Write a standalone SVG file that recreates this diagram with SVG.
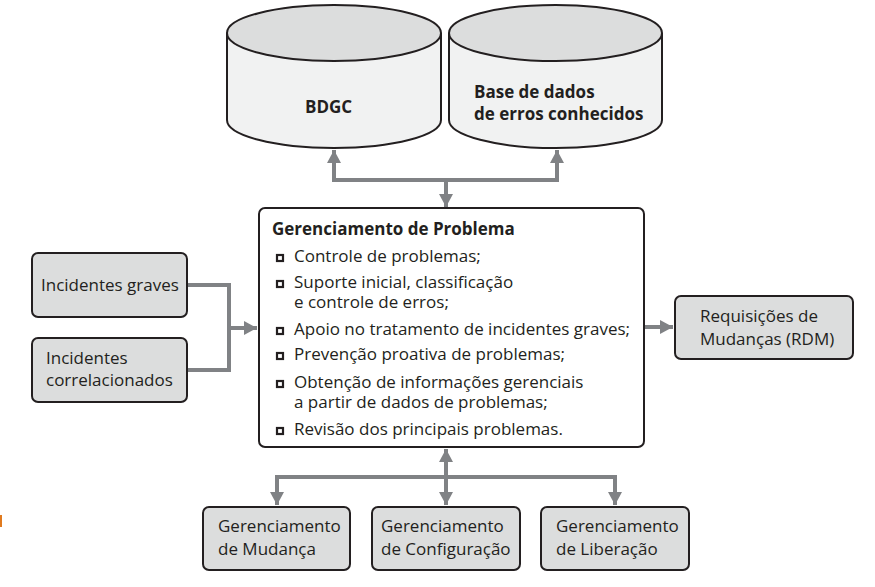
<svg xmlns="http://www.w3.org/2000/svg" width="875" height="587" viewBox="0 0 875 587">
<style>
text{font-family:"Open Sans","Noto Sans","Liberation Sans",sans-serif;fill:#231f20;font-size:17px}
.b{font-weight:bold}
.box{fill:#dcdddd;stroke:#231f20;stroke-width:2}
.main{fill:#ffffff;stroke:#231f20;stroke-width:2}
.cylTop{fill:#dcdddd;stroke:#231f20;stroke-width:2}
.cylBody{fill:#f1f2f2;stroke:#231f20;stroke-width:2}
.c{fill:none;stroke:#808285;stroke-width:4}
.bul{fill:#ffffff;stroke:#231f20;stroke-width:2.2}
</style>
<defs>
<marker id="ah" markerUnits="userSpaceOnUse" markerWidth="13" markerHeight="14" refX="13" refY="7" orient="auto-start-reverse" viewBox="0 0 13 14">
<path d="M0,0 L13,7 L0,14 z" fill="#808285"/>
</marker>
</defs>
<rect x="0" y="515" width="2" height="12" fill="#e07a1f"/>
<g id="connectors">
<path class="c" d="M332,180 H559"/>
<path class="c" d="M334,180 V150" marker-end="url(#ah)"/>
<path class="c" d="M557,180 V150" marker-end="url(#ah)"/>
<path class="c" d="M446,180 V207" marker-end="url(#ah)"/>
<path class="c" d="M187,285 H229 V370 H187"/>
<path class="c" d="M229,328 H257" marker-end="url(#ah)"/>
<path class="c" d="M644,327 H673" marker-end="url(#ah)"/>
<path class="c" d="M275,477 H617"/>
<path class="c" d="M446,477 V449" marker-end="url(#ah)"/>
<path class="c" d="M446,477 V505" marker-end="url(#ah)"/>
<path class="c" d="M277,475 V505" marker-end="url(#ah)"/>
<path class="c" d="M615,475 V505" marker-end="url(#ah)"/>
</g>
<g id="bdgc">
<path class="cylBody" d="M227,33 V120 A107,28 0 0 0 441,120 V33"/>
<ellipse class="cylTop" cx="334" cy="33" rx="107" ry="28"/>
<text class="b" x="305" y="113">BDGC</text>
</g>
<g id="base-erros">
<path class="cylBody" d="M449,33 V120 A106.5,28 0 0 0 662,120 V33"/>
<ellipse class="cylTop" cx="555.5" cy="33" rx="106.5" ry="28"/>
<text class="b" x="474" y="98">Base de dados</text>
<text class="b" x="474" y="120">de erros conhecidos</text>
</g>
<g id="gerenciamento-problema">
<rect class="main" x="259" y="208" width="385" height="239" rx="6"/>
<text class="b" x="272" y="235">Gerenciamento de Problema</text>
<rect class="bul" x="277" y="255" width="6" height="6"/>
<text x="294" y="262">Controle de problemas;</text>
<rect class="bul" x="277" y="281" width="6" height="6"/>
<text x="294" y="288">Suporte inicial, classificação</text>
<text x="294" y="308">e controle de erros;</text>
<rect class="bul" x="277" y="328" width="6" height="6"/>
<text x="294" y="335">Apoio no tratamento de incidentes graves;</text>
<rect class="bul" x="277" y="353" width="6" height="6"/>
<text x="294" y="360">Prevenção proativa de problemas;</text>
<rect class="bul" x="277" y="381" width="6" height="6"/>
<text x="294" y="388">Obtenção de informações gerenciais</text>
<text x="294" y="408">a partir de dados de problemas;</text>
<rect class="bul" x="277" y="428" width="6" height="6"/>
<text x="294" y="435">Revisão dos principais problemas.</text>
</g>
<g id="incidentes-graves">
<rect class="box" x="32" y="253" width="155" height="64" rx="6"/>
<text x="41" y="291">Incidentes graves</text>
</g>
<g id="incidentes-correlacionados">
<rect class="box" x="32" y="338" width="155" height="64" rx="6"/>
<text x="46" y="364">Incidentes</text>
<text x="46" y="386">correlacionados</text>
</g>
<g id="rdm">
<rect class="box" x="675" y="296" width="178" height="63" rx="6"/>
<text x="700" y="322">Requisições de</text>
<text x="700" y="345">Mudanças (RDM)</text>
</g>
<g id="ger-mudanca">
<rect class="box" x="203" y="507" width="147" height="63" rx="6"/>
<text x="218" y="532">Gerenciamento</text>
<text x="218" y="555">de Mudança</text>
</g>
<g id="ger-configuracao">
<rect class="box" x="372" y="507" width="148" height="63" rx="6"/>
<text x="381" y="532">Gerenciamento</text>
<text x="381" y="555">de Configuração</text>
</g>
<g id="ger-liberacao">
<rect class="box" x="541" y="507" width="148" height="63" rx="6"/>
<text x="556" y="532">Gerenciamento</text>
<text x="556" y="555">de Liberação</text>
</g>
</svg>
